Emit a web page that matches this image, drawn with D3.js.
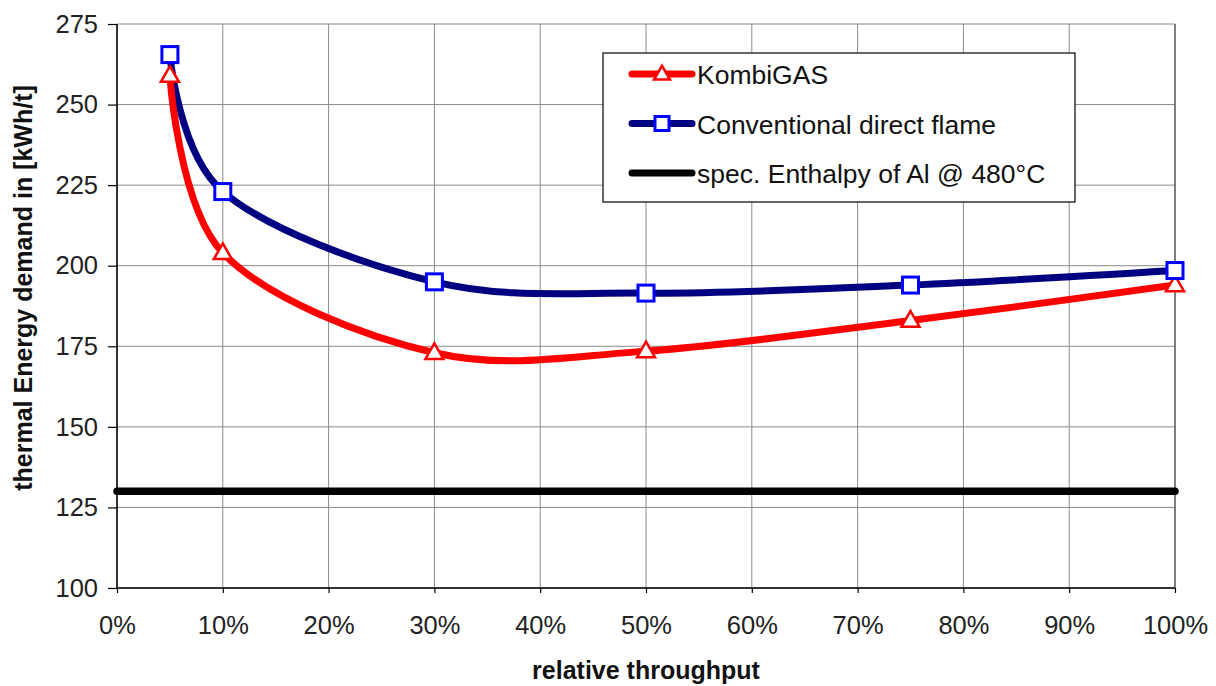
<!DOCTYPE html>
<html>
<head>
<meta charset="utf-8">
<script src="https://cdn.jsdelivr.net/npm/d3@7"></script>
<style>
  body { margin: 0; background: #fff; }
</style>
</head>
<body>
<div id="chart"></div>
<script>
// data
var throughput = [0.05, 0.10, 0.30, 0.50, 0.75, 1.00];
var kombiGas = [259, 204, 173, 173.5, 183, 194];
var conventional = [265.5, 223, 195, 191.5, 194, 198.5];
var enthalpy = 130;
var yTicks = [100, 125, 150, 175, 200, 225, 250, 275];
var xTicks = [0, 0.1, 0.2, 0.3, 0.4, 0.5, 0.6, 0.7, 0.8, 0.9, 1.0];
var seriesNames = ['KombiGAS', 'Conventional direct flame', 'spec. Enthalpy of Al @ 480\u00B0C'];

var attrs = {
  svgWidth: 1216,
  svgHeight: 686,
  marginTop: 24,
  marginLeft: 117,
  marginRight: 41,
  marginBottom: 98,
  font: '"Liberation Sans", Arial, Helvetica, sans-serif',
  tickFont: 25.5,
  titleFont: 25,
  legendFont: 26.5
};

var calc = {};
calc.chartWidth = attrs.svgWidth - attrs.marginLeft - attrs.marginRight;
calc.chartHeight = attrs.svgHeight - attrs.marginTop - attrs.marginBottom;

var svg = d3.select('#chart').append('svg')
  .attr('width', attrs.svgWidth)
  .attr('height', attrs.svgHeight)
  .attr('font-family', attrs.font);

var chart = svg.append('g')
  .attr('transform', 'translate(' + attrs.marginLeft + ',' + attrs.marginTop + ')');

var x = d3.scaleLinear().domain([0, 1]).range([0, calc.chartWidth]);
var y = d3.scaleLinear().domain([100, 275]).range([calc.chartHeight, 0]);

// gridlines
chart.append('g').selectAll('line.hgrid').data(yTicks).enter().append('line')
  .attr('x1', 0).attr('x2', calc.chartWidth)
  .attr('y1', d => y(d)).attr('y2', d => y(d))
  .attr('stroke', '#8a8a8a').attr('stroke-width', 1);
chart.append('g').selectAll('line.vgrid').data(xTicks).enter().append('line')
  .attr('x1', d => x(d)).attr('x2', d => x(d))
  .attr('y1', 0).attr('y2', calc.chartHeight)
  .attr('stroke', d => d === 1 ? '#555' : '#8a8a8a').attr('stroke-width', d => d === 1 ? 1.5 : 1);

// axes
var yAxis = chart.append('g')
  .call(d3.axisLeft(y).tickValues(yTicks).tickSize(9).tickPadding(10));
var xAxis = chart.append('g')
  .attr('transform', 'translate(0,' + calc.chartHeight + ')')
  .call(d3.axisBottom(x).tickValues(xTicks).tickSize(5).tickPadding(23).tickFormat(d3.format('.0%')));
[yAxis, xAxis].forEach(function (a) {
  a.selectAll('path').attr('stroke', '#000').attr('stroke-width', 1.5);
  a.selectAll('line').attr('stroke', '#000').attr('stroke-width', 1.2);
  a.selectAll('text').attr('font-size', attrs.tickFont).attr('fill', '#222').attr('font-family', attrs.font);
});
yAxis.select('.domain').attr('d', 'M0,' + calc.chartHeight + 'V0');
xAxis.select('.domain').attr('d', 'M0,0H' + calc.chartWidth);

// axis titles
svg.append('text')
  .attr('transform', 'translate(32,288) rotate(-90)')
  .attr('text-anchor', 'middle')
  .attr('font-size', attrs.titleFont).attr('font-weight', 'bold').attr('fill', '#111')
  .text('thermal Energy demand in [kWh/t]');
svg.append('text')
  .attr('x', attrs.marginLeft + calc.chartWidth / 2)
  .attr('y', 679)
  .attr('text-anchor', 'middle')
  .attr('font-size', attrs.titleFont).attr('font-weight', 'bold').attr('fill', '#111')
  .text('relative throughput');

// lines
var line = d3.line()
  .x(d => x(d[0]))
  .y(d => y(d[1]))
  .curve(d3.curveCardinal.tension(0));

chart.append('line')
  .attr('x1', 0).attr('x2', calc.chartWidth)
  .attr('y1', y(enthalpy)).attr('y2', y(enthalpy))
  .attr('stroke', '#000').attr('stroke-width', 7.5).attr('stroke-linecap', 'round');

var kombiPts = throughput.map((t, i) => [t, kombiGas[i]]);
var convPts = throughput.map((t, i) => [t, conventional[i]]);

chart.append('path').attr('d', line(convPts))
  .attr('fill', 'none').attr('stroke', '#000080').attr('stroke-width', 7);
chart.append('path').attr('d', line(kombiPts))
  .attr('fill', 'none').attr('stroke', '#ff0000').attr('stroke-width', 7);

var tri = d3.symbol().type(d3.symbolTriangle).size(140);

chart.selectAll('path.tri').data(kombiPts).enter().append('path')
  .attr('class', 'tri')
  .attr('d', tri)
  .attr('transform', d => 'translate(' + x(d[0]) + ',' + (y(d[1]) + 1) + ')')
  .attr('fill', '#fff').attr('stroke', '#ff0000').attr('stroke-width', 2.5);

chart.selectAll('rect.sq').data(convPts).enter().append('rect')
  .attr('class', 'sq')
  .attr('x', d => x(d[0]) - 8).attr('y', d => y(d[1]) - 8)
  .attr('width', 16).attr('height', 16)
  .attr('fill', '#fff').attr('stroke', '#0000ff').attr('stroke-width', 3);

// legend
var legend = svg.append('g').attr('transform', 'translate(603,53)');
legend.append('rect')
  .attr('x', 0).attr('y', 0).attr('width', 472).attr('height', 149)
  .attr('fill', '#fff').attr('stroke', '#000').attr('stroke-width', 1.2);

var legendRows = legend.selectAll('g.row').data(seriesNames).enter().append('g')
  .attr('class', 'row')
  .attr('transform', (d, i) => 'translate(0,' + (21 + i * 49.5) + ')');
var legendColors = ['#ff0000', '#000080', '#000'];
legendRows.append('line')
  .attr('x1', 29).attr('x2', 89).attr('y1', 0).attr('y2', 0)
  .attr('stroke', (d, i) => legendColors[i]).attr('stroke-width', 7).attr('stroke-linecap', 'round');
legendRows.filter((d, i) => i === 0).append('path')
  .attr('d', d3.symbol().type(d3.symbolTriangle).size(110))
  .attr('transform', 'translate(59,1)')
  .attr('fill', '#fff').attr('stroke', '#ff0000').attr('stroke-width', 2.5);
legendRows.filter((d, i) => i === 1).append('rect')
  .attr('x', 52).attr('y', -7).attr('width', 14).attr('height', 14)
  .attr('fill', '#fff').attr('stroke', '#0000ff').attr('stroke-width', 3);
legendRows.append('text')
  .attr('x', 94).attr('y', 10)
  .attr('font-size', attrs.legendFont).attr('fill', '#111')
  .text(d => d);
</script>
</body>
</html>
